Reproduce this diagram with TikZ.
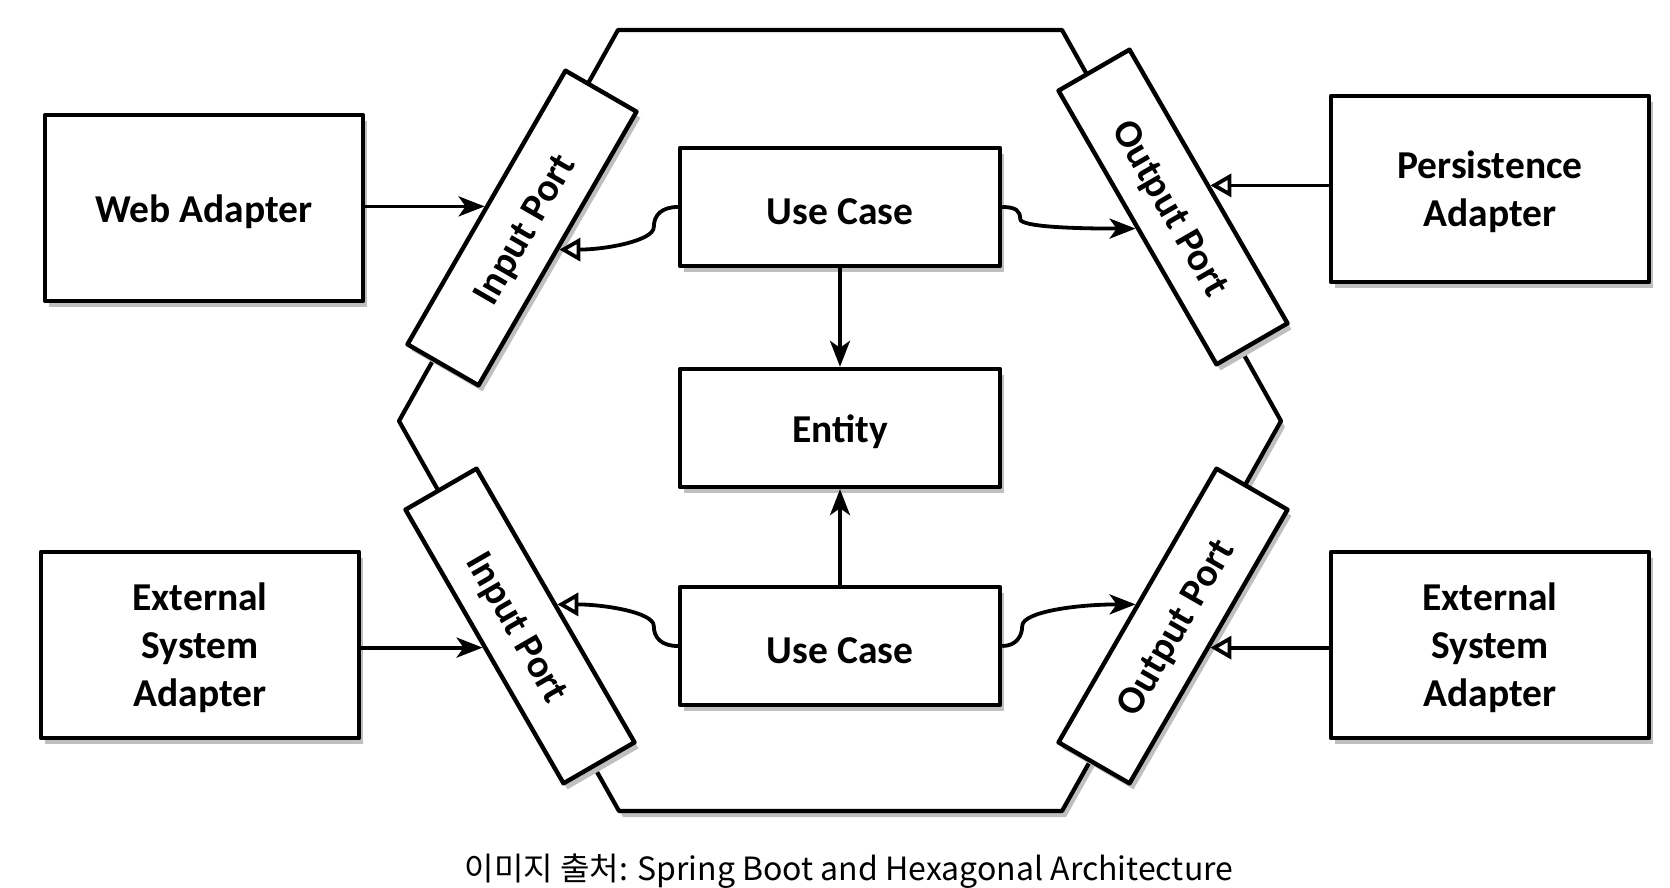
\documentclass[tikz,border=0pt]{standalone}
\usepackage{fontspec}
\setmainfont{Carlito}
\newfontfamily\kr{Noto Sans CJK KR}
\usetikzlibrary{arrows.meta,shadows,calc}
\begin{document}
\begin{tikzpicture}[x=1pt,y=-1pt,
  softshadow/.style={drop shadow={shadow xshift=4pt,shadow yshift=-6pt,fill=black!25,opacity=1}},
  box/.style={draw, line width=4.4pt, fill=white, softshadow, align=center,
    font=\fontsize{39.5}{48}\selectfont\bfseries, inner sep=0pt, line join=round,
    execute at begin node={\rule{0pt}{36pt}}},
  adapter/.style={box, minimum width=318pt, minimum height=186pt},
  multiline/.style={text depth=0pt},
  core/.style={box, minimum width=320pt, minimum height=118pt},
  port/.style={box, minimum width=316pt, minimum height=82pt},
  conn/.style={line width=3.8pt},
  fillarrow/.style={conn, -{Stealth[length=26pt,width=20pt,inset=7pt]}},
  openarrow/.style={conn, -{Triangle[open,length=21pt,width=23pt,line width=3.8pt]}},
]
\useasboundingbox (0,0) rectangle (1670,888);

% hexagon
\draw[line width=4.2pt, fill=white, softshadow, line join=round]
  (618,30) -- (1062,30) -- (1281,421) -- (1062,811) -- (619,811) -- (399,421) -- cycle;

% adapters
\node[adapter] (web)  at (204,208) {Web Adapter};
\node[adapter, multiline] (extl) at (200,645) {External\\System\\Adapter};
\node[adapter, multiline] (pers) at (1490,189) {Persistence\\Adapter};
\node[adapter, multiline] (extr) at (1490,645) {External\\System\\Adapter};

% core
\node[core] (uc1) at (840,207) {Use Case};
\node[core] (ent) at (840,428) {Entity};
\node[core] (uc2) at (840,646) {Use Case};

% ports
\node[port, rotate=60]  (ipt) at (522,228)  {Input Port};
\node[port, rotate=-60] (opt) at (1173,207) {Output Port};
\node[port, rotate=-60] (ipb) at (520,626)  {Input Port};
\node[port, rotate=60]  (opb) at (1173,626) {Output Port};

% straight connectors
\draw[fillarrow] (web.east |- ipt.north) -- (ipt.north);
\draw[fillarrow] (extl.east |- ipb.south) -- (ipb.south);
\draw[openarrow] (pers.west |- opt.north) -- (opt.north);
\draw[openarrow] (extr.west |- opb.south) -- (opb.south);
\draw[fillarrow] (uc1.south) -- (ent.north);
\draw[fillarrow] (uc2.north) -- (ent.south);

% curved connectors
\coordinate (m1) at ($(uc1.west)+(-24,20)$);
\coordinate (m2) at ($(uc2.west)+(-24,-20)$);
\coordinate (m3) at ($(uc1.east)+(18,12)$);
\coordinate (m4) at ($(uc2.east)+(20,-20)$);

\draw[openarrow] (uc1.west) .. controls ($(uc1.west)+(-16,0)$) and ($(m1)+(0,-12)$) .. (m1)
  .. controls ($(m1)+(0,14)$) and ($(ipt.south)+(45,0)$) .. (ipt.south);
\draw[openarrow] (uc2.west) .. controls ($(uc2.west)+(-16,0)$) and ($(m2)+(0,12)$) .. (m2)
  .. controls ($(m2)+(0,-14)$) and ($(ipb.north)+(45,0)$) .. (ipb.north);
\draw[fillarrow] (uc1.east) .. controls ($(uc1.east)+(14,0)$) and ($(m3)+(0,-8)$) .. (m3)
  .. controls ($(m3)+(0,8)$) and ($(opt.south)+(-60,0)$) .. (opt.south);
\draw[fillarrow] (uc2.east) .. controls ($(uc2.east)+(14,0)$) and ($(m4)+(0,10)$) .. (m4)
  .. controls ($(m4)+(0,-14)$) and ($(opb.north)+(-60,0)$) .. (opb.north);

% caption
\node[font=\kr\fontsize{32}{40}\selectfont] (cap) at (849,871) {이미지 출처: Spring Boot and Hexagonal Architecture};
\end{tikzpicture}
\end{document}
